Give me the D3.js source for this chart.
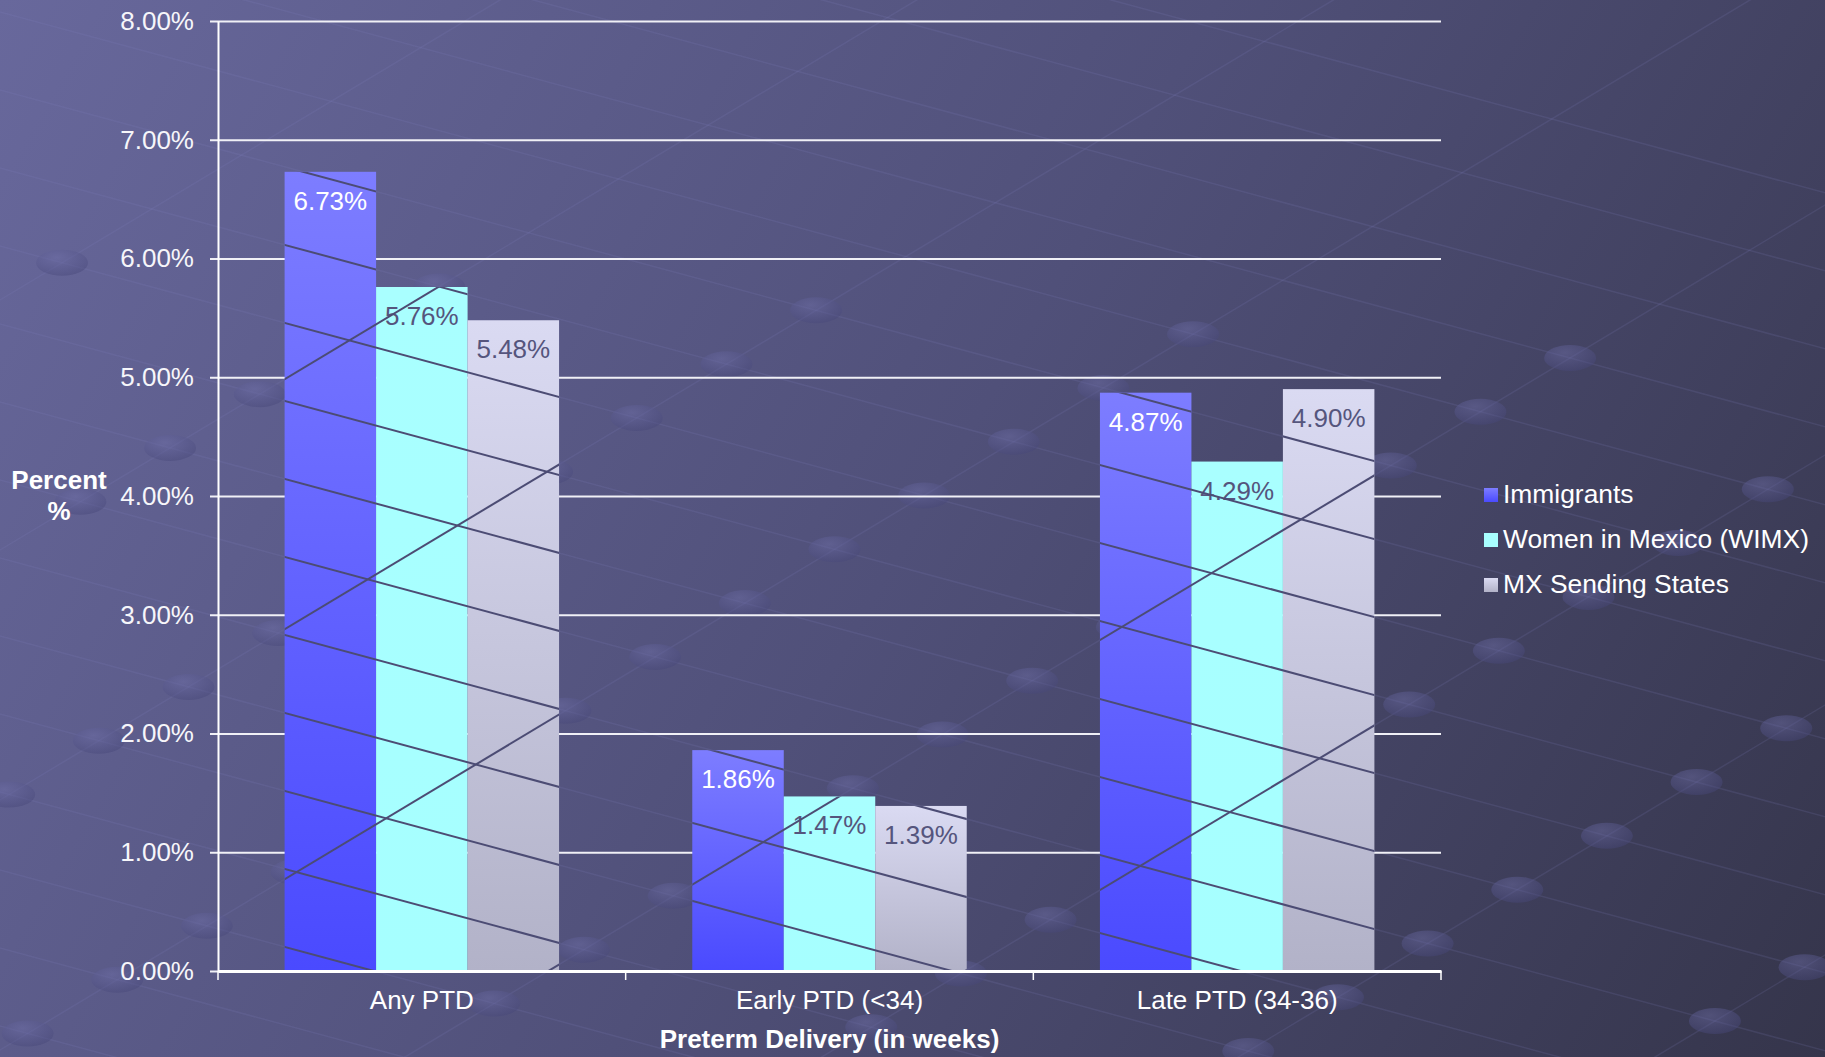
<!DOCTYPE html>
<html>
<head>
<meta charset="utf-8">
<script src="https://cdn.jsdelivr.net/npm/d3@7"></script>
<style>
  html, body { margin: 0; padding: 0; background: #505078; }
  svg { display: block; font-family: "Liberation Sans", Arial, sans-serif; }
</style>
</head>
<body>
<svg id="chart" width="1825" height="1057"></svg>
<script>
// ---- data ----
const categories = ["Any PTD", "Early PTD (<34)", "Late PTD (34-36)"];
const seriesNames = ["Immigrants", "Women in Mexico (WIMX)", "MX Sending States"];
const immigrants = [6.73, 1.86, 4.87];
const wimx = [5.76, 1.47, 4.29];
const mxStates = [5.48, 1.39, 4.90];
const yTicks = [0, 1, 2, 3, 4, 5, 6, 7, 8];
const yTitle = ["Percent", "%"];
const xTitle = "Preterm Delivery (in weeks)";

const seriesValues = [immigrants, wimx, mxStates];

// ---- layout ----
const W = 1825, H = 1057;
const pLeft = 218, pRight = 1441, pTop = 21, pBottom = 971;
const svg = d3.select("#chart");
const defs = svg.append("defs");

function linGrad(id, x1, y1, x2, y2, stops, units) {
  const g = defs.append("linearGradient").attr("id", id)
    .attr("x1", x1).attr("y1", y1).attr("x2", x2).attr("y2", y2);
  if (units) g.attr("gradientUnits", units);
  stops.forEach(s => g.append("stop").attr("offset", s[0]).attr("stop-color", s[1]));
}
linGrad("bg", 0, 0, W, H, [[0, "#68689c"], [0.5, "#505079"], [1, "#35354b"]], "userSpaceOnUse");
linGrad("g0", 0, 0, 0, 1, [[0, "#7d7dff"], [1, "#4a4aff"]]);
linGrad("g1", 0, 0, 0, 1, [[0, "#a9ffff"], [1, "#a6ffff"]]);
linGrad("g2", 0, 0, 0, 1, [[0, "#dadaf2"], [1, "#b2b2c8"]]);
const rg = defs.append("radialGradient").attr("id", "disc").attr("cx", "40%").attr("cy", "30%").attr("r", "70%");
rg.append("stop").attr("offset", 0).attr("stop-color", "#7070aa");
rg.append("stop").attr("offset", 1).attr("stop-color", "#48487a");
const fills = ["url(#g0)", "url(#g1)", "url(#g2)"];
const legendFills = ["url(#g0)", "#a8ffff", "url(#g2)"];
const labelColors = ["#ffffff", "#55557d", "#55557d"];

svg.append("rect").attr("width", W).attr("height", H).attr("fill", "url(#bg)");

// ---- scales ----
const x0 = d3.scaleBand().domain(categories).range([pLeft, pRight]).paddingInner(0).paddingOuter(0);
const x1 = d3.scaleBand().domain(seriesNames).range([0, x0.bandwidth()]).paddingInner(0).paddingOuter(0.728);
const y = d3.scaleLinear().domain([0, 8]).range([pBottom, pTop]);

// ---- decorative background pattern (perspective grid) ----
const deco = svg.append("g").attr("class", "decor");
const fallSlope = 0.27, riseSlope = -0.6;
const fallC = d3.range(-300, 1150, 78);
const riseC = d3.range(300, 2900, 250);
function lineSeg(m, c) { return { x1: -50, y1: c + m * -50, x2: W + 50, y2: c + m * (W + 50) }; }
const decoLines = fallC.map(c => lineSeg(fallSlope, c)).concat(riseC.map(c => lineSeg(riseSlope, c)));
deco.selectAll("line").data(decoLines).join("line")
  .attr("x1", d => d.x1).attr("y1", d => d.y1).attr("x2", d => d.x2).attr("y2", d => d.y2)
  .attr("stroke", "#8080c0").attr("stroke-opacity", 0.16).attr("stroke-width", 1.5);
const discs = [];
fallC.forEach(a => riseC.forEach(b => {
  const xx = (b - a) / (fallSlope - riseSlope), yy = a + fallSlope * xx;
  if (xx > 0 && xx < W && yy > 230 + 0.065 * xx && yy < H) discs.push([xx, yy]);
}));
deco.selectAll("ellipse").data(discs).join("ellipse")
  .attr("cx", d => d[0]).attr("cy", d => d[1]).attr("rx", 26).attr("ry", 13)
  .attr("fill", "url(#disc)").attr("opacity", 0.45);

// ---- gridlines ----
svg.append("g").attr("transform", `translate(${pLeft - 8},0)`)
  .call(d3.axisRight(y).tickValues(yTicks).tickSize(pRight - pLeft + 8).tickFormat(""))
  .call(g => g.select(".domain").remove())
  .call(g => g.selectAll(".tick line").attr("stroke", "#f0f0f6").attr("stroke-width", 2.2));

// ---- y labels ----
svg.append("g").attr("transform", `translate(${pLeft},0)`)
  .call(d3.axisLeft(y).tickValues(yTicks).tickSize(0).tickPadding(24).tickFormat(d => d.toFixed(2) + "%"))
  .call(g => g.select(".domain").attr("stroke", "#ffffff").attr("stroke-width", 2))
  .call(g => g.selectAll(".tick text").attr("fill", "#f6f6fa").attr("font-size", 26)
    .attr("font-family", '"Liberation Sans", Arial, sans-serif'));

// ---- bars ----
const rows = categories.map((c, i) => ({ cat: c, vals: seriesNames.map((s, j) => ({ s, j, v: seriesValues[j][i] })) }));
const groups = svg.append("g").selectAll("g").data(rows).join("g")
  .attr("transform", d => `translate(${x0(d.cat)},0)`);
groups.selectAll("rect").data(d => d.vals).join("rect")
  .attr("x", d => x1(d.s)).attr("width", x1.bandwidth())
  .attr("y", d => y(d.v)).attr("height", d => y(0) - y(d.v))
  .attr("fill", d => fills[d.j]);

// dark pattern lines over bars (clipped to bars)
const clip = defs.append("clipPath").attr("id", "barclip");
rows.forEach(r => r.vals.forEach(d => {
  clip.append("rect").attr("x", x0(r.cat) + x1(d.s)).attr("width", x1.bandwidth())
    .attr("y", y(d.v)).attr("height", y(0) - y(d.v));
}));
svg.append("g").attr("clip-path", "url(#barclip)").selectAll("line").data(decoLines).join("line")
  .attr("x1", d => d.x1).attr("y1", d => d.y1).attr("x2", d => d.x2).attr("y2", d => d.y2)
  .attr("stroke", "#4c4c74").attr("stroke-width", 2);

// ---- value labels ----
groups.selectAll("text").data(d => d.vals).join("text")
  .attr("x", d => x1(d.s) + x1.bandwidth() / 2).attr("y", d => y(d.v) + 38)
  .attr("text-anchor", "middle").attr("font-size", 26).attr("fill", d => labelColors[d.j])
  .text(d => d.v.toFixed(2) + "%");

// ---- x axis ----
svg.append("g").attr("transform", `translate(0,${pBottom})`)
  .call(d3.axisBottom(x0).tickValues([]).tickSizeOuter(0))
  .call(g => g.select(".domain").attr("stroke", "#ffffff").attr("stroke-width", 3));
const bounds = categories.map(c => x0(c)).concat([pRight]);
svg.append("g").selectAll("line").data(bounds).join("line")
  .attr("x1", d => d).attr("x2", d => d).attr("y1", pBottom).attr("y2", pBottom + 9)
  .attr("stroke", "#ffffff").attr("stroke-width", 1.5);
svg.append("g").selectAll("text").data(categories).join("text")
  .attr("x", d => x0(d) + x0.bandwidth() / 2).attr("y", 1009)
  .attr("text-anchor", "middle").attr("font-size", 26).attr("fill", "#ffffff").text(d => d);

// ---- titles ----
svg.append("text").attr("x", (pLeft + pRight) / 2).attr("y", 1048).attr("text-anchor", "middle")
  .attr("font-size", 26).attr("font-weight", "bold").attr("fill", "#ffffff").text(xTitle);
svg.append("g").selectAll("text").data(yTitle).join("text")
  .attr("x", 59).attr("y", (d, i) => 489 + i * 31).attr("text-anchor", "middle")
  .attr("font-size", 26).attr("font-weight", "bold").attr("fill", "#ffffff").text(d => d);

// ---- legend ----
const lg = svg.append("g").selectAll("g").data(seriesNames).join("g")
  .attr("transform", (d, i) => `translate(1484,${488 + i * 45})`);
lg.append("rect").attr("width", 14).attr("height", 14).attr("fill", (d, i) => legendFills[i]);
lg.append("text").attr("x", 19).attr("y", 15).attr("font-size", 26.4).attr("fill", "#ffffff").text(d => d);
</script>
</body>
</html>
